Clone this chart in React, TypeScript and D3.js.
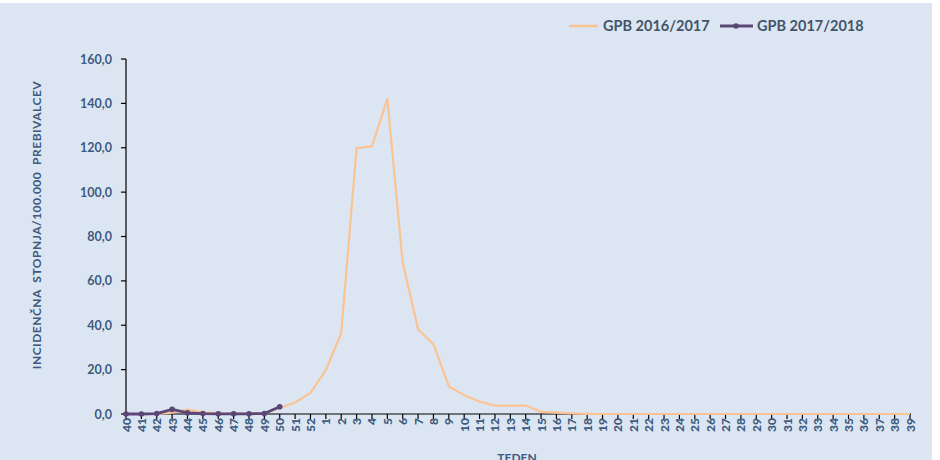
import React from "react";
import * as d3 from "d3";

const weeks: string[] = [
  "40","41","42","43","44","45","46","47","48","49","50","51","52",
  "1","2","3","4","5","6","7","8","9","10","11","12","13","14","15","16","17","18","19","20",
  "21","22","23","24","25","26","27","28","29","30","31","32","33","34","35","36","37","38","39",
];

const season1617: number[] = [
  0, 0, 0, 0.6, 2.0, 0.8, 0.3, 0.2, 0.2, 0.3, 2.7, 5.2, 9.5,
  19.8, 36.5, 119.8, 120.6, 142.0, 68.2, 38.2, 31.5, 12.4, 8.5, 5.6, 3.8, 3.8, 3.8, 1.0, 0.6, 0.3, 0.1, 0, 0,
  0, 0, 0, 0, 0, 0, 0, 0, 0, 0, 0, 0, 0, 0, 0, 0, 0, 0, 0,
];

const season1718: number[] = [0, 0, 0.2, 2.1, 0.5, 0.2, 0.1, 0.1, 0.1, 0.2, 3.3];

const yTicks: number[] = [0, 20, 40, 60, 80, 100, 120, 140, 160];
const seriesNames: string[] = ["GPB 2016/2017", "GPB 2017/2018"];

const W = 940;
const H = 460;
const left = 126;
const right = 910;
const top = 59;
const bottom = 414;
const FONT = "Lato, 'Open Sans', sans-serif";
const TEXT = "#3e5a80";
const ORANGE = "#fac393";
const PURPLE = "#5b4677";

export default function App() {
  const x = d3.scalePoint<string>().domain(weeks).range([left, right]);
  const y = d3.scaleLinear().domain([0, 160]).range([bottom, top]);

  const line = d3
    .line<number>()
    .x((_, i) => x(weeks[i]) as number)
    .y((d) => y(d));

  const fmt = (v: number) => v.toFixed(1).replace(".", ",");

  return (
    <svg
      width={W}
      height={H}
      style={{ position: "absolute", left: 0, top: 0, display: "block" }}
      fontFamily={FONT}
    >
      <rect x={0} y={0} width={W} height={H} fill="#ffffff" />
      <rect x={0} y={3} width={932} height={H - 3} fill="#dce6f2" />

      {/* legend */}
      <g>
        <line x1={569} x2={598} y1={26} y2={26} stroke={ORANGE} strokeWidth={2.5} />
        <text x={603} y={31} fontSize={14.5} fontWeight={700} fill="#44546a">
          {seriesNames[0]}
        </text>
        <line x1={720} x2={753} y1={26} y2={26} stroke={PURPLE} strokeWidth={3} />
        <circle cx={736} cy={26} r={2.8} fill={PURPLE} />
        <text x={757} y={31} fontSize={14.5} fontWeight={700} fill="#44546a">
          {seriesNames[1]}
        </text>
      </g>

      {/* y axis */}
      <line x1={left} x2={left} y1={top} y2={bottom} stroke="#000" strokeWidth={1.2} />
      {yTicks.map((t) => (
        <g key={t}>
          <line x1={left - 5} x2={left} y1={y(t)} y2={y(t)} stroke="#000" strokeWidth={1.2} />
          <text
            x={112}
            y={y(t) + 4.5}
            textAnchor="end"
            fontSize={12.5}
            fontWeight={700}
            fill={TEXT}
          >
            {fmt(t)}
          </text>
        </g>
      ))}
      <text
        transform={`translate(41, 225) rotate(-90)`}
        textAnchor="middle"
        fontSize={12}
        fontWeight={700}
        fill={TEXT}
        style={{ whiteSpace: "pre" }}
        letterSpacing={0.5}
      >
        {"INCIDENČNA  STOPNJA/100.000  PREBIVALCEV"}
      </text>

      {/* x axis */}
      <line x1={left} x2={right + 1} y1={bottom} y2={bottom} stroke="#000" strokeWidth={1.2} />
      {weeks.map((w) => (
        <g key={w}>
          <line
            x1={x(w) as number}
            x2={x(w) as number}
            y1={bottom}
            y2={bottom + 5}
            stroke="#000"
            strokeWidth={1.2}
          />
          <text
            transform={`translate(${(x(w) as number) + 4.5}, ${bottom + 4}) rotate(-90)`}
            textAnchor="end"
            fontSize={12}
            fontWeight={900}
            fill={TEXT}
          >
            {w}
          </text>
        </g>
      ))}
      <text x={517} y={462} textAnchor="middle" fontSize={12} fontWeight={700} fill={TEXT}>
        TEDEN
      </text>

      {/* series */}
      <path d={line(season1617) || ""} fill="none" stroke={ORANGE} strokeWidth={2.2} strokeLinejoin="round" />
      <path d={line(season1718) || ""} fill="none" stroke={PURPLE} strokeWidth={2.8} strokeLinejoin="round" />
      {season1718.map((v, i) => (
        <circle key={i} cx={x(weeks[i]) as number} cy={y(v)} r={2.8} fill={PURPLE} />
      ))}
    </svg>
  );
}
